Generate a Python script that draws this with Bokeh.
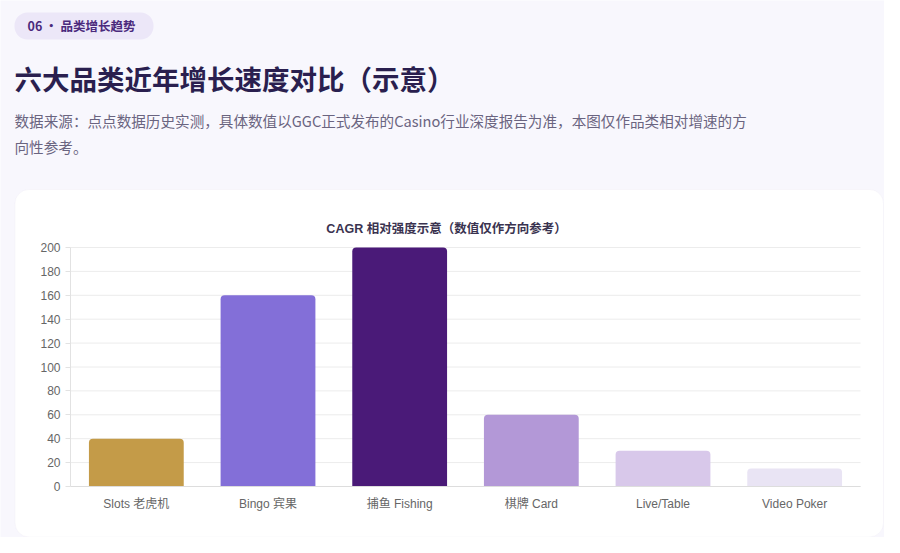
from bokeh.plotting import figure
from bokeh.models import Range1d, Label, BoxAnnotation, ColumnDataSource, FixedTicker, LinearAxis
from bokeh.embed import file_html
from bokeh.resources import INLINE

categories = ["Slots 老虎机", "Bingo 宾果", "捕鱼 Fishing", "棋牌 Card", "Live/Table", "Video Poker"]
values = [40, 160, 200, 60, 30, 15]
colors = ["#c49b48", "#836fd8", "#4a1a78", "#b398d7", "#d8c8ea", "#e9e4f4"]
y_ticks = [0, 20, 40, 60, 80, 100, 120, 140, 160, 180, 200]

badge_text = "06 · 品类增长趋势"
page_title = "六大品类近年增长速度对比（示意）"
subtitle_1 = "数据来源：点点数据历史实测，具体数值以GGC正式发布的Casino行业深度报告为准，本图仅作品类相对增速的方"
subtitle_2 = "向性参考。"
chart_title = "CAGR 相对强度示意（数值仅作方向参考）"

SANS = "'Liberation Sans', 'Noto Sans CJK SC', sans-serif"
CJK = "'Noto Sans CJK SC', sans-serif"

W, H = 884, 537
FL, FT, FR, FB = 70, 247, 860, 486  # chart area edges in canvas pixels
Y_MAX = y_ticks[-1]
N = len(categories)

# ranges chosen so the chart area lands at FL..FR / FT..FB while the frame fills the canvas
px_y = (FB - FT) / Y_MAX
px_x = (FR - FL) / N
y_range = Range1d(-(H - FB) / px_y, Y_MAX + FT / px_y)
x_range = Range1d(-FL / px_x, N + (W - FR) / px_x)

xpos = [i + 0.5 for i in range(N)]
source = ColumnDataSource(dict(x=xpos, val=values, color=colors))

p = figure(
    width=W, height=H, x_range=x_range, y_range=y_range,
    min_border=0, min_border_left=0, min_border_right=0, min_border_top=0, min_border_bottom=0,
    border_fill_color="#f8f7fd", background_fill_color="#f8f7fd",
    outline_line_color=None, x_axis_location=None, y_axis_location=None,
    output_backend="svg", toolbar_location=None,
)
p.grid.visible = False

def sy(cy):
    return H - cy

def add_box(l, t, r, b, fill, line=None, radius=0, level="image"):
    p.add_layout(BoxAnnotation(left=l, right=r, top=sy(t), bottom=sy(b),
                               left_units="screen", right_units="screen",
                               top_units="screen", bottom_units="screen",
                               fill_color=fill, fill_alpha=1, line_color=line, line_width=1,
                               border_radius=radius, level=level))

add_box(14.5, 189, 883, 536.5, "white", "#ebe8f3", 14)
add_box(14, 12, 153, 39, "#ece7f8", None, 13)

def add_label(x, y, text, size, color, style="normal", font=CJK, align="left"):
    p.add_layout(Label(x=x, y=sy(y), x_units="screen", y_units="screen", text=text,
                       text_font=font, text_font_size=size, text_color=color,
                       text_font_style=style, text_baseline="middle", text_align=align))

add_label(27, 25, badge_text, "12.5px", "#4b2a7d", "bold")
add_label(14, 77, page_title, "27.5px", "#2a1f4f", "bold")
add_label(14, 120, subtitle_1, "14.6px", "#6a6480")
add_label(14, 146, subtitle_2, "14.6px", "#6a6480")
add_label(446, 228, chart_title, "12.5px", "#3a3350", "bold", SANS, "center")

# horizontal grid lines over the category span
p.segment(x0=[0] * len(y_ticks), x1=[N] * len(y_ticks), y0=y_ticks, y1=y_ticks,
          line_color="#ececec", line_width=1)

p.vbar(x="x", top="val", width=0.72, source=source, fill_color="color",
       line_color=None, border_radius=(4, 4, 0, 0))

yax = LinearAxis(fixed_location=0, bounds=(0, Y_MAX), ticker=FixedTicker(ticks=y_ticks))
yax.minor_tick_line_color = None
yax.major_tick_in = 0
yax.major_tick_out = 5
yax.major_tick_line_color = "#e2e2e2"
yax.axis_line_color = "#e2e2e2"
yax.major_label_text_font = SANS
yax.major_label_text_font_size = "12px"
yax.major_label_text_color = "#666666"
yax.major_label_standoff = 5
p.add_layout(yax, "left")

xax = LinearAxis(fixed_location=0, bounds=(0, N), ticker=FixedTicker(ticks=xpos),
                 major_label_overrides={x: c for x, c in zip(xpos, categories)})
xax.axis_line_color = "#dddddd"
xax.major_tick_line_color = None
xax.minor_tick_line_color = None
xax.major_label_text_font = SANS
xax.major_label_text_font_size = "12px"
xax.major_label_text_color = "#666666"
xax.major_label_standoff = 4
p.add_layout(xax, "below")

open("out.html", "w").write(file_html(p, INLINE))
